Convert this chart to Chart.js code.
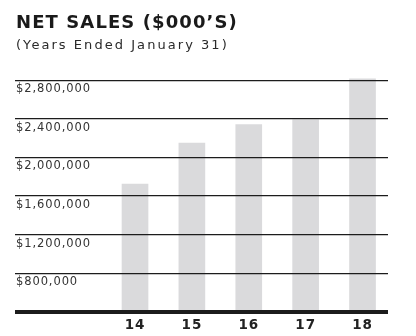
<!DOCTYPE html>
<html>
<head>
<meta charset="utf-8">
<script src="https://cdn.jsdelivr.net/npm/chart.js@4"></script>
<style>
  html, body { margin: 0; padding: 0; background: #fff; }
  #wrap { position: relative; width: 416px; height: 336px; }
  #title {
    position: absolute; left: 16px; top: 12px;
    font: bold 18px "DejaVu Sans", sans-serif; letter-spacing: 1.1px;
    color: #1a1a1a; line-height: 20px; white-space: nowrap;
  }
  #subtitle {
    position: absolute; left: 16px; top: 37px;
    font: normal 13px "DejaVu Sans", sans-serif; letter-spacing: 2.05px;
    color: #2a2a2a; line-height: 16px; white-space: nowrap;
  }
  canvas { position: absolute; left: 0; top: 0; }
</style>
</head>
<body>
<div id="wrap">
  <canvas id="chart" width="416" height="336"></canvas>
  <div id="title">NET SALES ($000’S)</div>
  <div id="subtitle">(Years Ended January 31)</div>
</div>
<script>
const years = [14, 15, 16, 17, 18];
const netSales = [1725000, 2150000, 2340000, 2390000, 2815000];
const yTicks = [400000, 800000, 1200000, 1600000, 2000000, 2400000, 2800000];

const BAR_COLOR = "#dadadc";
const LINE_COLOR = "#1c1c1c";

// canvas text in the reference is slightly tracked out
const letterSpacing = {
  id: "letterSpacing",
  beforeDraw(chart) { chart.ctx.letterSpacing = "0.9px"; },
};

new Chart(document.getElementById("chart"), {
  type: "bar",
  data: {
    datasets: [{
      data: years.map((y, i) => ({ x: y, y: netSales[i] })),
      backgroundColor: BAR_COLOR,
      borderWidth: 0,
      barThickness: 26,
    }],
  },
  plugins: [letterSpacing],
  options: {
    responsive: false,
    animation: false,
    layout: { padding: { left: 13, right: 28, top: 61, bottom: -4 } },
    plugins: {
      legend: { display: false },
      tooltip: { enabled: false },
    },
    scales: {
      x: {
        type: "linear",
        offset: false,
        min: 11.89,
        max: 18.448,
        grid: { display: false, drawTicks: false },
        border: { display: false },
        afterBuildTicks: (scale) => { scale.ticks = years.map(v => ({ value: v })); },
        ticks: {
          padding: 6,
          color: "#222",
          font: { family: "DejaVu Sans", size: 13.5, weight: "bold" },
          callback: (v) => String(v),
        },
      },
      y: {
        min: 400000,
        max: 3000000,
        grid: {
          z: 1,
          drawTicks: false,
          color: LINE_COLOR,
          lineWidth: (ctx) => (ctx.tick && ctx.tick.value === 400000 ? 4 : 1.3),
        },
        border: { display: false },
        afterBuildTicks: (scale) => { scale.ticks = yTicks.map(v => ({ value: v })); },
        ticks: {
          mirror: true,
          padding: 1,
          labelOffset: 9,
          color: "#333",
          font: { family: "DejaVu Sans", size: 11.5 },
          callback: (v) => (v === 400000 ? "" : "$" + v.toLocaleString("en-US")),
        },
      },
    },
  },
});
</script>
</body>
</html>
